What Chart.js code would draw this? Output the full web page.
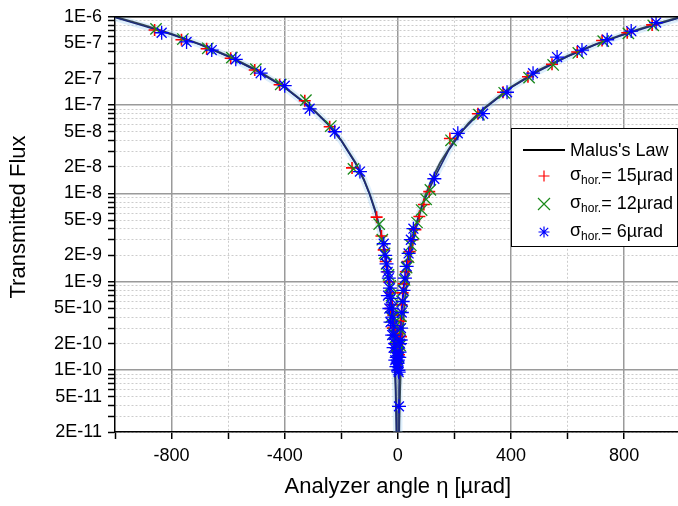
<!DOCTYPE html>
<html>
<head>
<meta charset="utf-8">
<script src="https://cdn.jsdelivr.net/npm/chart.js@4.4.0/dist/chart.umd.min.js"></script>
<style>
  html, body { margin: 0; padding: 0; background: #fff; overflow: hidden; }
  #wrap { width: 678px; height: 506px; overflow: hidden; }
</style>
</head>
<body>
<div id="wrap"><canvas id="fluxChart" width="690" height="506"></canvas></div>
<script>
// Valeurs (angle en µrad, flux transmis)
const malusEta = [-1000, -900, -800, -700, -600, -500, -400, -300, -250, -200, -150, -120, -100, -80, -60, -45, -35, -25, -18, -12, -8, -5, -3,
                  3, 5, 8, 12, 18, 25, 35, 45, 60, 80, 100, 120, 150, 200, 250, 300, 400, 500, 600, 700, 800, 900, 1000];
const malusFlux = [1e-6, 8.1e-7, 6.4e-7, 4.9e-7, 3.6e-7, 2.5e-7, 1.6e-7, 9e-8, 6.25e-8, 4e-8, 2.25e-8, 1.44e-8, 1e-8, 6.4e-9, 3.6e-9, 2.0e-9, 1.2e-9, 6.3e-10, 3.2e-10, 1.4e-10, 6.4e-11, 2.5e-11, 9e-12,
                   9e-12, 2.5e-11, 6.4e-11, 1.4e-10, 3.2e-10, 6.3e-10, 1.2e-9, 2.0e-9, 3.6e-9, 6.4e-9, 1e-8, 1.44e-8, 2.25e-8, 4e-8, 6.25e-8, 9e-8, 1.6e-7, 2.5e-7, 3.6e-7, 4.9e-7, 6.4e-7, 8.1e-7, 1e-6];

const fitEta = [-1000, -900, -800, -700, -600, -500, -400, -300, -250, -200, -150, -120, -100, -80, -60, -45, -35, -28, -22, -17, -13, -10, -8, -6, -4,
                2, 4, 7, 10, 14, 19, 26, 35, 48, 65, 85, 110, 140, 180, 230, 300, 400, 500, 600, 700, 800, 900, 1000];
const fitFlux = [9.8e-7, 7.9e-7, 6.3e-7, 4.85e-7, 3.55e-7, 2.45e-7, 1.58e-7, 8.9e-8, 6.2e-8, 3.95e-8, 2.2e-8, 1.42e-8, 9.8e-9, 6.3e-9, 3.6e-9, 2.0e-9, 1.25e-9, 8.5e-10, 5.5e-10, 3.4e-10, 2.0e-10, 1.2e-10, 7e-11, 3.5e-11, 1.5e-11,
                 1.5e-11, 6e-11, 1.6e-10, 2.8e-10, 4.8e-10, 7.5e-10, 1.15e-9, 1.75e-9, 2.8e-9, 4.6e-9, 7.2e-9, 1.1e-8, 1.75e-8, 3.1e-8, 5.2e-8, 8.8e-8, 1.58e-7, 2.45e-7, 3.55e-7, 4.85e-7, 6.3e-7, 7.9e-7, 9.8e-7];

const redEta = [-860, -765, -676, -591, -506, -418, -329, -241, -162, -75, -58, -50, -43, -36, -30, -25, -20, -16, -12, -8, -5, -2, 2, 5, 9, 13, 17, 21, 28, 35, 42, 52, 62, 76, 92, 111, 184, 283, 372, 460, 545, 634, 722, 811, 899,
                -27, -18, -10, -3, 4, 11];
const redFlux = [7.1e-7, 5.5e-7, 4.35e-7, 3.4e-7, 2.5e-7, 1.7e-7, 1.12e-7, 5.7e-8, 1.95e-8, 5.4e-9, 3.3e-9, 2.3e-9, 1.7e-9, 1.3e-9, 1.0e-9, 7.5e-10, 5.5e-10, 4.2e-10, 3.2e-10, 2.5e-10, 2.0e-10, 1.7e-10, 2.0e-10, 2.6e-10, 3.6e-10, 5.5e-10, 7.5e-10, 9.5e-10, 1.3e-9, 1.7e-9, 2.2e-9, 3.0e-9, 3.9e-9, 5.5e-9, 7.5e-9, 1.05e-8, 4.2e-8, 8.0e-8, 1.4e-7, 2.1e-7, 2.9e-7, 4.0e-7, 5.4e-7, 6.6e-7, 8.1e-7,
                 5.0e-10, 3.0e-10, 2.0e-10, 1.6e-10, 1.5e-10, 2.4e-10];

const greenEta = [-855, -760, -672, -587, -502, -414, -325, -237, -157, -66, -55, -47, -40, -33, -27, -22, -18, -14, -10, -6, -3, 0, 3, 7, 11, 15, 19, 24, 31, 38, 46, 56, 68, 84, 100, 115, 188, 287, 376, 464, 549, 638, 726, 815, 903,
                  -24, -15, -7, 1, 8];
const greenFlux = [7.3e-7, 5.6e-7, 4.4e-7, 3.45e-7, 2.55e-7, 1.72e-7, 1.14e-7, 5.8e-8, 1.9e-8, 4.5e-9, 3.0e-9, 2.1e-9, 1.6e-9, 1.2e-9, 9e-10, 7e-10, 5.2e-10, 4e-10, 3.1e-10, 2.4e-10, 1.9e-10, 1.6e-10, 2.1e-10, 2.9e-10, 4.1e-10, 6.0e-10, 8e-10, 1.05e-9, 1.45e-9, 1.9e-9, 2.6e-9, 3.5e-9, 4.7e-9, 6.5e-9, 8.6e-9, 1.1e-8, 4.0e-8, 7.8e-8, 1.38e-7, 2.05e-7, 2.85e-7, 3.9e-7, 5.3e-7, 6.5e-7, 8.0e-7,
                   4.0e-10, 2.6e-10, 1.8e-10, 1.4e-10, 1.9e-10];

const blueEta = [-835, -747, -658, -573, -485, -400, -312, -223, -134, -50, -45, -40, -36, -32, -28, -25, -22, -19, -16, -13, -10, -7, -4, -1, 2, 4, 5, 8, 11, 14, 17, 20, 25, 31, 38, 46, 55, 129, 212, 301, 386, 478, 563, 651, 740, 825, 913,
                 -35, -30, -26, -20, -15, -9, -5, 0, 6, 10, 3];
const blueFlux = [6.6e-7, 5.2e-7, 4.2e-7, 3.3e-7, 2.3e-7, 1.66e-7, 9.1e-8, 5.0e-8, 1.77e-8, 2.7e-9, 2.0e-9, 1.6e-9, 1.3e-9, 1.1e-9, 8.5e-10, 6.5e-10, 5e-10, 4e-10, 3.2e-10, 2.5e-10, 2e-10, 1.6e-10, 1.4e-10, 1.2e-10, 1e-10, 3.9e-11, 1.4e-10, 2e-10, 3e-10, 4.5e-10, 6e-10, 8e-10, 1.1e-9, 1.5e-9, 2.1e-9, 3e-9, 4e-9, 1.47e-8, 4.8e-8, 8.0e-8, 1.4e-7, 2.3e-7, 3.5e-7, 4.2e-7, 5.5e-7, 6.9e-7, 8.6e-7,
                  7e-10, 5e-10, 3.5e-10, 2.5e-10, 1.8e-10, 1.3e-10, 1.1e-10, 1.3e-10, 1.6e-10, 2.2e-10, 9.5e-11];

// Graduations
const xTickValues = [-800, -400, 0, 400, 800];
const xGridValues = [-1000, -800, -600, -400, -200, 0, 200, 400, 600, 800, 1000];
const yTickValues = [2e-11, 5e-11, 1e-10, 2e-10, 5e-10, 1e-9, 2e-9, 5e-9, 1e-8, 2e-8, 5e-8, 1e-7, 2e-7, 5e-7, 1e-6];
const yTickLabels = ['2E-11', '5E-11', '1E-10', '2E-10', '5E-10', '1E-9', '2E-9', '5E-9', '1E-8', '2E-8', '5E-8', '1E-7', '2E-7', '5E-7', '1E-6'];
const yDecades = [1e-11, 1e-10, 1e-9, 1e-8, 1e-7];
const yMinorSteps = [1, 2, 3, 4, 5, 6, 7, 8, 9];

const FONT = "'Liberation Sans', Arial, sans-serif";

function toPoints(xs, ys) {
    return xs.map((x, i) => ({ x: x, y: ys[i] }));
}

function isDecade(v) {
    const l = Math.log10(v);
    return Math.abs(l - Math.round(l)) < 1e-6;
}

// Toutes les lignes de grille en y : 2..9 x chaque décade, jusqu'à 1E-6
const yGridValues = [];
yDecades.forEach(d => yMinorSteps.forEach(m => {
    const v = d * m;
    if (v >= 2e-11 * 0.999) yGridValues.push(v);
}));
yGridValues.push(1e-6);

// Légende dessinée à la main (indices "hor.") + titre de l'axe y
const legendPlugin = {
    id: 'customLegend',
    afterDraw(chart) {
        const ctx = chart.ctx;
        const area = chart.chartArea;
        ctx.save();
        // cadre haut et droit
        ctx.strokeStyle = '#000';
        ctx.lineWidth = 1.5;
        ctx.beginPath();
        ctx.moveTo(area.left, area.top);
        ctx.lineTo(area.right, area.top);
        ctx.lineTo(area.right, area.bottom);
        ctx.stroke();

        // titre vertical
        ctx.save();
        ctx.translate(19, 217);
        ctx.rotate(-Math.PI / 2);
        ctx.textAlign = 'center';
        ctx.textBaseline = 'middle';
        ctx.fillStyle = '#000';
        ctx.font = '22px ' + FONT;
        ctx.fillText('Transmitted Flux', 0, 0);
        ctx.restore();

        const bx = 511, by = 128, bw = 166, bh = 118;
        ctx.fillStyle = '#fff';
        ctx.fillRect(bx, by, bw, bh);
        ctx.lineWidth = 1;
        ctx.strokeStyle = '#000';
        ctx.strokeRect(bx + 0.5, by + 0.5, bw, bh);

        ctx.textBaseline = 'middle';
        ctx.fillStyle = '#000';
        ctx.font = '18px ' + FONT;

        // Malus
        ctx.lineWidth = 2;
        ctx.beginPath();
        ctx.moveTo(523, 150);
        ctx.lineTo(565, 150);
        ctx.stroke();
        ctx.fillText("Malus's Law", 570, 151);

        const rows = [
            { y: 176, color: '#ff0000', style: 'plus', text: '= 15µrad' },
            { y: 204, color: '#1a8a1a', style: 'x', text: '= 12µrad' },
            { y: 232, color: '#0000ff', style: 'star', text: '= 6µrad' }
        ];
        rows.forEach(r => {
            ctx.strokeStyle = r.color;
            ctx.lineWidth = 1.2;
            const cx = 544, cy = r.y, s = 5.5;
            ctx.beginPath();
            if (r.style !== 'x') {
                ctx.moveTo(cx - s, cy); ctx.lineTo(cx + s, cy);
                ctx.moveTo(cx, cy - s); ctx.lineTo(cx, cy + s);
            }
            if (r.style !== 'plus') {
                const d = r.style === 'x' ? 6 : 4.2;
                ctx.moveTo(cx - d, cy - d); ctx.lineTo(cx + d, cy + d);
                ctx.moveTo(cx - d, cy + d); ctx.lineTo(cx + d, cy - d);
            }
            ctx.stroke();

            ctx.fillStyle = '#000';
            ctx.font = '18px ' + FONT;
            ctx.fillText('σ', 570, r.y - 1);
            const sw = ctx.measureText('σ').width;
            ctx.font = '12px ' + FONT;
            ctx.fillText('hor.', 570 + sw, r.y + 5);
            const hw = ctx.measureText('hor.').width;
            ctx.font = '18px ' + FONT;
            ctx.fillText(r.text, 570 + sw + hw, r.y);
        });
        ctx.restore();
    }
};

const ctx = document.getElementById('fluxChart').getContext('2d');
const fluxChart = new Chart(ctx, {
    type: 'scatter',
    data: {
        datasets: [
            {
                label: 'σhor.= 6µrad',
                data: toPoints(blueEta, blueFlux),
                pointStyle: 'star',
                pointRadius: 7,
                pointBorderWidth: 1.3,
                borderColor: '#0000ff',
                backgroundColor: '#0000ff',
                showLine: false
            },
            {
                label: 'σhor.= 12µrad',
                data: toPoints(greenEta, greenFlux),
                pointStyle: 'crossRot',
                pointRadius: 8,
                pointBorderWidth: 1.3,
                borderColor: '#1a8a1a',
                backgroundColor: '#1a8a1a',
                showLine: false
            },
            {
                label: 'σhor.= 15µrad',
                data: toPoints(redEta, redFlux),
                pointStyle: 'cross',
                pointRadius: 6,
                pointBorderWidth: 1.6,
                borderColor: '#ff0000',
                backgroundColor: '#ff0000',
                showLine: false
            },
            {
                label: 'fit',
                data: toPoints(fitEta, fitFlux),
                showLine: true,
                pointRadius: 0,
                borderColor: '#1c2a78',
                borderWidth: 1.5,
                tension: 0
            },
            {
                label: 'band',
                data: toPoints(fitEta, fitFlux),
                showLine: true,
                pointRadius: 0,
                borderColor: 'rgba(160, 210, 245, 0.35)',
                borderWidth: 7,
                tension: 0
            },
            {
                label: "Malus's Law",
                data: toPoints(malusEta, malusFlux),
                showLine: true,
                pointRadius: 0,
                borderColor: '#000',
                borderWidth: 2,
                tension: 0
            }
        ]
    },
    options: {
        responsive: false,
        animation: false,
        layout: { padding: { top: 15, right: 0, left: 0, bottom: 0 } },
        plugins: {
            legend: { display: false },
            tooltip: { enabled: false }
        },
        scales: {
            x: {
                type: 'linear',
                min: -1000,
                max: 1000,
                afterBuildTicks: s => { s.ticks = xGridValues.map(v => ({ value: v })); },
                afterFit: s => { s.height = 74; },
                ticks: {
                    autoSkip: false,
                    maxRotation: 0,
                    padding: 6,
                    color: '#000',
                    font: { family: FONT, size: 18 },
                    callback: v => xTickValues.includes(v) ? String(v) : ''
                },
                grid: {
                    color: c => {
                        const v = c.tick ? c.tick.value : 0;
                        if (Math.abs(v) === 1000) return 'rgba(0,0,0,0)';
                        return xTickValues.includes(v) ? '#9a9a9a' : '#cccccc';
                    },
                    lineWidth: c => (c.tick && xTickValues.includes(c.tick.value)) ? 1.5 : 1,
                    tickColor: '#000',
                    tickLength: 7,
                    tickWidth: 1.5
                },
                border: {
                    color: '#000',
                    width: 1.5,
                    dash: c => (c.tick && xTickValues.includes(c.tick.value)) ? [] : [2, 2]
                },
                title: {
                    display: true,
                    text: 'Analyzer angle η [µrad]',
                    color: '#000',
                    font: { family: FONT, size: 22 },
                    padding: { top: 0, bottom: 6 }
                }
            },
            y: {
                type: 'logarithmic',
                min: 2e-11,
                max: 1e-6,
                afterBuildTicks: s => { s.ticks = yGridValues.map(v => ({ value: v })); },
                afterFit: s => { s.width = 115; },
                ticks: {
                    autoSkip: false,
                    padding: 6,
                    color: '#000',
                    font: { family: FONT, size: 18 },
                    callback: v => {
                        const i = yTickValues.findIndex(t => Math.abs(t - v) / t < 1e-6);
                        return i >= 0 ? yTickLabels[i] : '';
                    }
                },
                grid: {
                    color: c => (c.tick && isDecade(c.tick.value)) ? '#9a9a9a' : '#cccccc',
                    lineWidth: c => (c.tick && isDecade(c.tick.value)) ? 1.5 : 1,
                    tickColor: '#000',
                    tickLength: 7,
                    tickWidth: 1.5
                },
                border: {
                    color: '#000',
                    width: 1.5,
                    dash: c => (c.tick && isDecade(c.tick.value)) ? [] : [2, 2]
                },
                title: { display: false }
            }
        }
    },
    plugins: [legendPlugin]
});
</script>
</body>
</html>
